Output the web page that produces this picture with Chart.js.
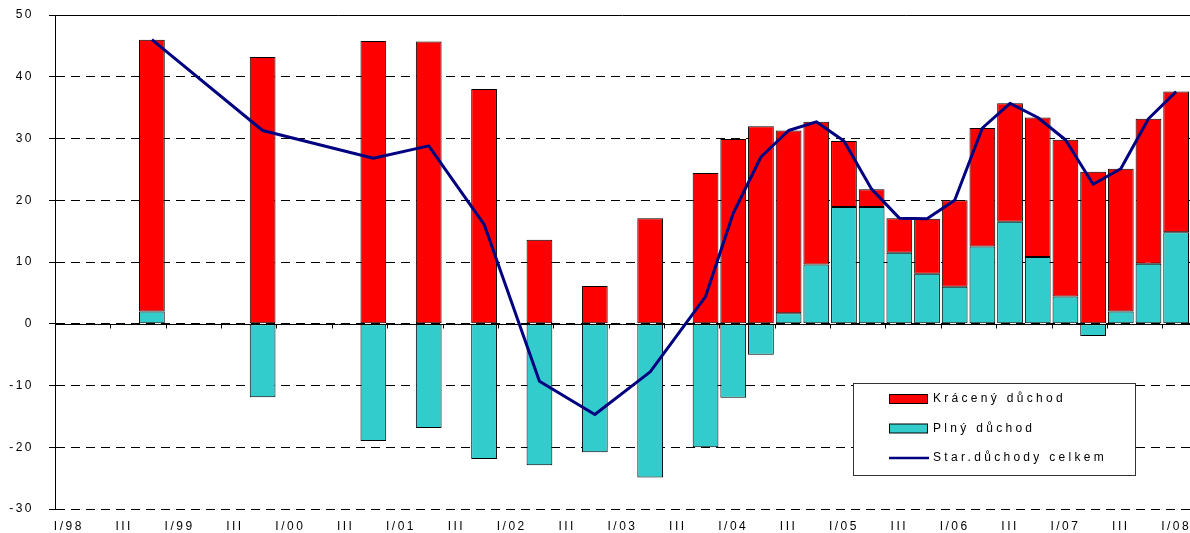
<!DOCTYPE html>
<html>
<head>
<meta charset="utf-8">
<script src="https://cdn.jsdelivr.net/npm/chart.js@4/dist/chart.umd.min.js"></script>
<style>
  body { margin: 0; background: #fff; }
  #wrap { width: 1190px; height: 533px; position: relative; }
</style>
</head>
<body>
<div id="wrap"><canvas id="duchody"></canvas></div>
<script>
// quarters I/98 .. I/08
const quarters = [
  'I/98', 'II/98', 'III/98', 'IV/98',
  'I/99', 'II/99', 'III/99', 'IV/99',
  'I/00', 'II/00', 'III/00', 'IV/00',
  'I/01', 'II/01', 'III/01', 'IV/01',
  'I/02', 'II/02', 'III/02', 'IV/02',
  'I/03', 'II/03', 'III/03', 'IV/03',
  'I/04', 'II/04', 'III/04', 'IV/04',
  'I/05', 'II/05', 'III/05', 'IV/05',
  'I/06', 'II/06', 'III/06', 'IV/06',
  'I/07', 'II/07', 'III/07', 'IV/07',
  'I/08'
];

// Plný důchod
const plny = [
  null, null, null, 2.0,
  null, null, null, -11.9,
  null, null, null, -19.0,
  null, -16.9, null, -21.9,
  null, -22.9, null, -20.8,
  null, -24.9, null, -20.0,
  -12.0, -5.0, 1.7, 9.6,
  18.9, 18.9, 11.5, 8.1,
  6.0, 12.5, 16.5, 10.8,
  4.4, -2.0, 2.0, 9.7,
  14.8
];

// Krácený důchod
const kraceny = [
  null, null, null, 44.0,
  null, null, null, 43.2,
  null, null, null, 45.8,
  null, 45.7, null, 38.0,
  null, 13.6, null, 6.1,
  null, 17.1, null, 24.4,
  29.9, 32.0, 29.6, 23.1,
  10.7, 2.9, 5.6, 8.9,
  14.0, 19.2, 19.2, 22.6,
  25.4, 24.6, 23.1, 23.5,
  22.8
];

// Star.důchody celkem
const celkem = [
  null, null, null, 46.0,
  null, null, null, 31.3,
  null, null, null, 26.8,
  null, 28.8, null, 16.1,
  null, -9.3, null, -14.7,
  null, -7.8, null, 4.4,
  17.9, 27.0, 31.3, 32.7,
  29.6, 21.8, 17.1, 17.0,
  20.0, 31.7, 35.7, 33.4,
  29.8, 22.6, 25.1, 33.2,
  37.6
];

const yTicks = [-30, -20, -10, 0, 10, 20, 30, 40, 50];

const RED = '#ff0000';
const TEAL = '#33cccc';
const NAVY = '#000080';
const FONT = '"Liberation Sans", Arial, sans-serif';

Chart.defaults.font.family = FONT;
Chart.defaults.font.size = 12;
Chart.defaults.color = '#000';

// only I and III quarter get a label
function quarterLabel(q) {
  if (q.indexOf('I/') === 0) return q;
  if (q.indexOf('III/') === 0) return 'III';
  return '';
}

// spaced-out lettering for the axis texts
const spacing = {
  id: 'spacing',
  beforeUpdate(chart) { chart.ctx.letterSpacing = '2.5px'; },
  beforeDraw(chart) { chart.ctx.letterSpacing = '2.5px'; }
};

// solid top edge, zero line with its little ticks
const axisLines = {
  id: 'axisLines',
  beforeDatasetsDraw(chart) {
    const ctx = chart.ctx;
    const x = chart.scales.x, y = chart.scales.y;
    const area = chart.chartArea;
    const y0 = Math.round(y.getPixelForValue(0)) + 0.5;
    const yTop = Math.round(y.getPixelForValue(50)) + 0.5;
    ctx.save();
    ctx.strokeStyle = '#000';
    ctx.lineWidth = 1;
    ctx.setLineDash([]);
    ctx.beginPath();
    ctx.moveTo(area.left, yTop);
    ctx.lineTo(area.right, yTop);
    ctx.moveTo(area.left, y0);
    ctx.lineTo(area.right, y0);
    for (let k = 2; k < quarters.length; k += 2) {
      const bx = Math.round((x.getPixelForValue(k - 1) + x.getPixelForValue(k)) / 2) + 0.5;
      ctx.moveTo(bx, y0);
      ctx.lineTo(bx, y0 + 4);
    }
    ctx.stroke();
    ctx.restore();
  }
};

// boxed legend inside the plot
const boxLegend = {
  id: 'boxLegend',
  afterDraw(chart) {
    const ctx = chart.ctx;
    const bx = 853, by = 383, bw = 282, bh = 92;
    ctx.save();
    ctx.fillStyle = '#fff';
    ctx.fillRect(bx, by, bw, bh);
    ctx.strokeStyle = '#333';
    ctx.lineWidth = 1;
    ctx.strokeRect(bx + 0.5, by + 0.5, bw, bh);

    const items = [
      { text: chart.data.datasets[1].label, kind: 'box', color: RED },
      { text: chart.data.datasets[0].label, kind: 'box', color: TEAL },
      { text: chart.data.datasets[2].label, kind: 'line', color: NAVY }
    ];
    ctx.font = '12px ' + FONT;
    ctx.letterSpacing = '3.3px';
    ctx.textBaseline = 'middle';
    ctx.textAlign = 'left';
    items.forEach(function (it, i) {
      const cy = by + 16 + i * 29.5;
      if (it.kind === 'box') {
        ctx.fillStyle = it.color;
        ctx.fillRect(889.5, cy - 4.5, 38, 9);
        ctx.strokeStyle = '#000';
        ctx.strokeRect(889.5, cy - 4.5, 38, 9);
      } else {
        ctx.strokeStyle = it.color;
        ctx.lineWidth = 2.5;
        ctx.beginPath();
        ctx.moveTo(889, cy);
        ctx.lineTo(929, cy);
        ctx.stroke();
        ctx.lineWidth = 1;
      }
      ctx.fillStyle = '#000';
      ctx.fillText(it.text, 933, cy);
    });
    ctx.restore();
  }
};

const ctxBar = document.getElementById('duchody').getContext('2d');

const chartDuchody = new Chart(ctxBar, {
  type: 'bar',
  data: {
    labels: quarters,
    datasets: [
      {
        label: 'Plný důchod',
        data: plny,
        backgroundColor: TEAL,
        borderColor: '#000',
        borderWidth: 1,
        borderSkipped: false,
        stack: 'duchody',
        order: 2
      },
      {
        label: 'Krácený důchod',
        data: kraceny,
        backgroundColor: RED,
        borderColor: '#000',
        borderWidth: 1,
        borderSkipped: false,
        stack: 'duchody',
        order: 2
      },
      {
        type: 'line',
        label: 'Star.důchody celkem',
        data: celkem,
        borderColor: NAVY,
        borderWidth: 3,
        pointRadius: 0,
        tension: 0,
        spanGaps: true,
        borderJoinStyle: 'round',
        stack: 'celkem',
        order: 1,
        clip: false
      }
    ]
  },
  options: {
    responsive: true,
    maintainAspectRatio: false,
    animation: false,
    layout: { padding: { top: 15, right: 0, bottom: 0, left: 0 } },
    datasets: {
      bar: { categoryPercentage: 1, barPercentage: 0.93 }
    },
    plugins: {
      legend: { display: false },
      tooltip: { enabled: false }
    },
    scales: {
      x: {
        stacked: true,
        grid: { display: false, drawTicks: false },
        border: { display: false },
        ticks: {
          autoSkip: false,
          maxRotation: 0,
          padding: 10,
          font: { size: 12 },
          callback: function (v, i) { return quarterLabel(quarters[i]); }
        },
        afterFit: function (scale) {
          scale.height = 24;
          scale.paddingLeft = 0;
          scale.paddingRight = 0;
        }
      },
      y: {
        stacked: true,
        min: -30,
        max: 50,
        afterBuildTicks: function (scale) {
          scale.ticks = yTicks.map(function (v) { return { value: v }; });
        },
        grid: {
          color: '#000',
          lineWidth: 1,
          tickLength: 6,
          tickColor: '#000'
        },
        border: { display: true, color: '#000', width: 1, dash: [9, 6] },
        ticks: {
          padding: 15,
          font: { size: 12 }
        },
        afterFit: function (scale) {
          scale.width = 55;
          scale.paddingTop = 0;
          scale.paddingBottom = 0;
        }
      }
    }
  },
  plugins: [spacing, axisLines, boxLegend]
});
</script>
</body>
</html>
